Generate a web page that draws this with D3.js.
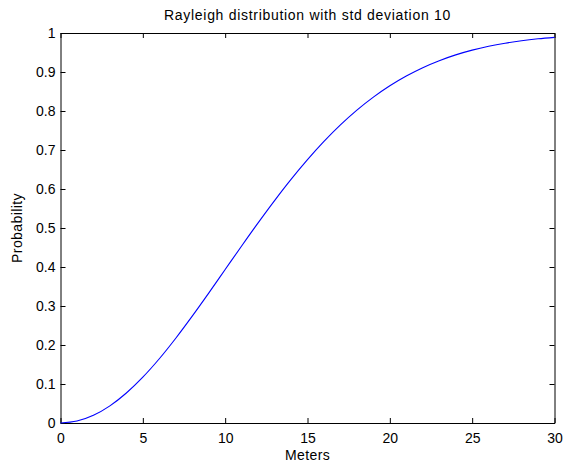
<!DOCTYPE html>
<html>
<head>
<meta charset="utf-8">
<script src="https://cdn.jsdelivr.net/npm/d3@7"></script>
<style>
  html, body { margin: 0; padding: 0; background: #fff; }
  svg text { font-family: "Liberation Sans", Helvetica, Arial, sans-serif; fill: #000; }
</style>
</head>
<body>
<svg id="chart" width="563" height="470"></svg>
<script>
// Cumulative probability of a Rayleigh variable (std deviation 10) by distance in meters
const meters = [0, 1, 2, 3, 4, 5, 6, 7, 8, 9, 10, 11, 12, 13, 14, 15, 16, 17, 18, 19, 20,
                21, 22, 23, 24, 25, 26, 27, 28, 29, 30];
const probability = [0, 0.005, 0.0198, 0.044, 0.0769, 0.1175, 0.1647, 0.2173, 0.2739, 0.333,
                     0.3935, 0.4539, 0.5132, 0.5704, 0.6247, 0.6753, 0.722, 0.7643, 0.8021,
                     0.8355, 0.8647, 0.8897, 0.9111, 0.929, 0.9439, 0.9561, 0.966, 0.9739,
                     0.9802, 0.9851, 0.9889];
const xTicks = [0, 5, 10, 15, 20, 25, 30];
const yTicks = [0, 0.1, 0.2, 0.3, 0.4, 0.5, 0.6, 0.7, 0.8, 0.9, 1];

const titleText = "Rayleigh distribution with std deviation 10";
const xLabel = "Meters";
const yLabel = "Probability";

const svg = d3.select("#chart");
const m = { left: 60.5, right: 554.5, top: 33, bottom: 423 };

const x = d3.scaleLinear().domain([0, 30]).range([m.left, m.right]);
const y = d3.scaleLinear().domain([0, 1]).range([m.bottom, m.top]);

const tickLen = 5;
const fontSize = 14;
const fmt = d => String(+d.toFixed(1));

// Axes: bottom/left labelled, top/right mirror ticks only (boxed axes, ticks pointing in)
const gB = svg.append("g").attr("transform", `translate(0,${m.bottom})`)
  .call(d3.axisBottom(x).tickValues(xTicks).tickFormat(fmt).tickSizeInner(-tickLen).tickSizeOuter(0).tickPadding(10));
const gL = svg.append("g").attr("transform", `translate(${m.left},0)`)
  .call(d3.axisLeft(y).tickValues(yTicks).tickFormat(fmt).tickSizeInner(-tickLen).tickSizeOuter(0).tickPadding(5));
const gT = svg.append("g").attr("transform", `translate(0,${m.top})`)
  .call(d3.axisTop(x).tickValues(xTicks).tickFormat("").tickSizeInner(-tickLen).tickSizeOuter(0));
const gR = svg.append("g").attr("transform", `translate(${m.right},0)`)
  .call(d3.axisRight(y).tickValues(yTicks).tickFormat("").tickSizeInner(-tickLen).tickSizeOuter(0));

[gB, gL, gT, gR].forEach(g => {
  g.selectAll("path.domain").attr("stroke", "#000").attr("stroke-width", 1);
  g.selectAll(".tick line").attr("stroke", "#000").attr("stroke-width", 1);
  g.selectAll(".tick text").attr("font-size", fontSize).attr("font-family", null);
});

// Curve
const line = d3.line()
  .x((d, i) => x(meters[i]))
  .y(d => y(d))
  .curve(d3.curveMonotoneX);

svg.append("path")
  .datum(probability)
  .attr("fill", "none")
  .attr("stroke", "#0000ff")
  .attr("stroke-width", 1.1)
  .attr("d", line);

// Title and axis labels
svg.append("text")
  .attr("x", (m.left + m.right) / 2).attr("y", 20)
  .attr("text-anchor", "middle").attr("font-size", 14)
  .attr("letter-spacing", 0.7)
  .text(titleText);

svg.append("text")
  .attr("x", (m.left + m.right) / 2).attr("y", 460)
  .attr("text-anchor", "middle").attr("font-size", fontSize)
  .attr("letter-spacing", 0.4)
  .text(xLabel);

svg.append("text")
  .attr("transform", `translate(22,${(m.top + m.bottom) / 2}) rotate(-90)`)
  .attr("text-anchor", "middle").attr("font-size", fontSize)
  .attr("letter-spacing", 0.4)
  .text(yLabel);
</script>
</body>
</html>
